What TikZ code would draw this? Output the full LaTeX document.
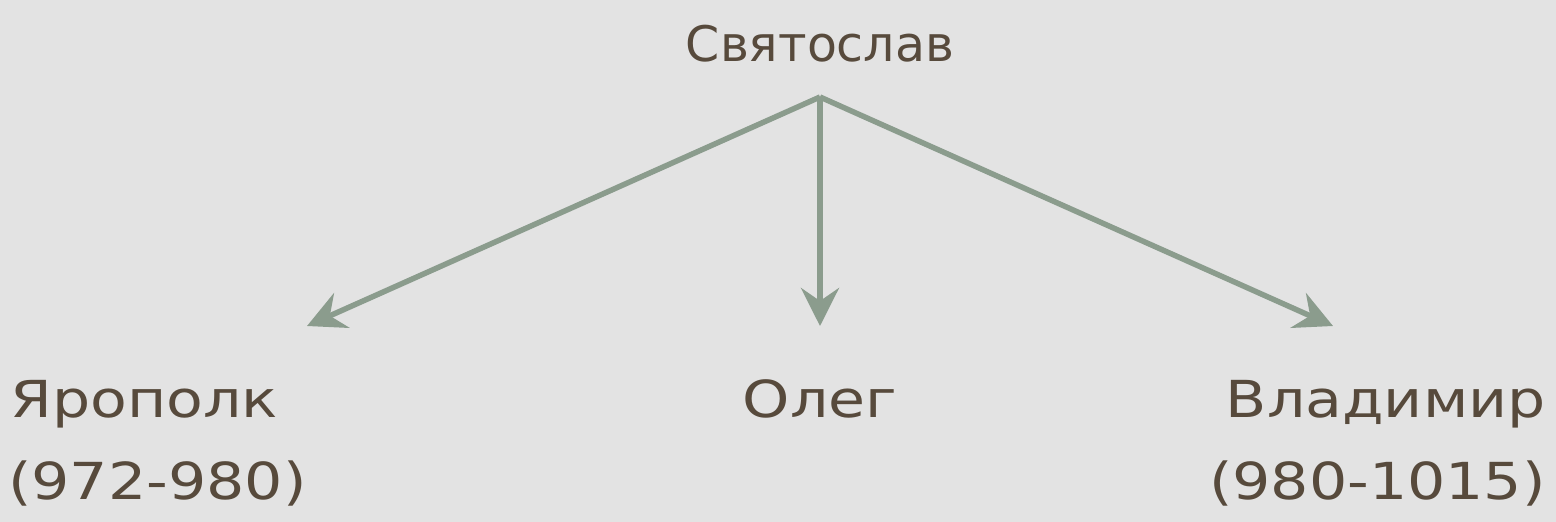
\documentclass[tikz,border=0pt]{standalone}
\usepackage{fontspec}
\setmainfont{DejaVu Sans}[FakeStretch=1.18]
\newfontfamily\titlefont{DejaVu Sans}
\usetikzlibrary{arrows.meta}
\definecolor{bgc}{HTML}{E3E3E3}
\definecolor{txt}{HTML}{574A3C}
\definecolor{arr}{HTML}{8B9C8D}
\tikzset{
  lbl/.style={text=txt, inner sep=0pt, font=\fontsize{51}{82}\selectfont},
  ttl/.style={text=txt, inner sep=0pt, font=\titlefont\fontsize{49}{60}\selectfont},
  link/.style={draw=arr, line width=5.5pt, -{Stealth[length=38pt,width=38pt,inset=13pt]}}
}
\begin{document}
\begin{tikzpicture}[x=1pt,y=-1pt]
\fill[bgc] (0,0) rectangle (1556,522);
\useasboundingbox (0,0) rectangle (1556,522);
\node[ttl, anchor=base] (svt) at (820,61) {Святослав};
\node[lbl, anchor=base west] (yar) at (10,417) {Ярополк};
\node[lbl, anchor=base west] (yar2) at (8,499) {(972-980)};
\node[lbl, anchor=base] (oleg) at (820,417) {Олег};
\node[lbl, anchor=base east] (vla) at (1546,417) {Владимир};
\node[lbl, anchor=base east] (vla2) at (1546,499) {(980-1015)};
\coordinate (top) at (820,97);
\coordinate (e1) at (307,326);
\coordinate (e2) at (820,326);
\coordinate (e3) at (1333,326);
\draw[link] (top) -- (e1);
\draw[link] (top) -- (e2);
\draw[link] (top) -- (e3);
\end{tikzpicture}
\end{document}
